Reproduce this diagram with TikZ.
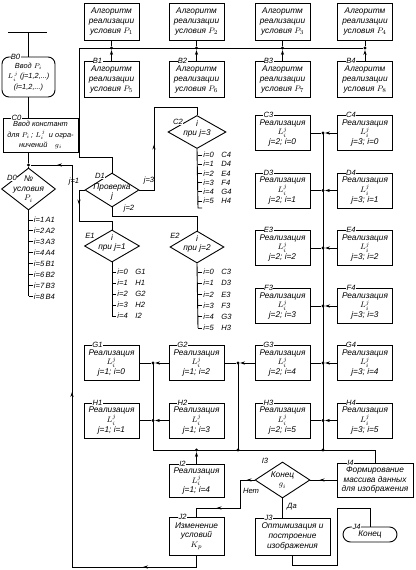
\documentclass[tikz,border=0pt]{standalone}
\usepackage{fontspec}
\setmainfont{Liberation Sans}
\usetikzlibrary{shapes.geometric,arrows.meta,decorations.markings}
\newcommand{\bfs}{\fontsize{8.3}{9.6}\selectfont\itshape}
\newcommand{\lfs}{\fontsize{7.6}{8.6}\selectfont\itshape}
\newcommand{\cfs}{\fontsize{7.4}{10.4}\selectfont\itshape}
\tikzset{
  blk/.style={draw, minimum width=55, minimum height=35, inner sep=0pt, align=center, font=\bfs},
  dia/.style={draw, diamond, inner sep=0pt, minimum width=55, minimum height=33},
  tag/.style={fill=white, inner sep=0.4pt, font=\lfs},
  lab/.style={label={[tag, anchor=center, xshift=14pt]north west:#1}},
  dtx/.style={label={[font=\bfs, align=center, inner sep=0pt]center:{#1}}},
  lst/.style={font=\lfs, inner sep=1pt},
  dot/.style={circle, fill, inner sep=0pt, minimum size=3.2pt},
  marr/.style={postaction={decorate, decoration={markings,
    mark=at position #1 with {\arrow{Stealth[length=5pt,width=3.2pt]}}}}}
}
\begin{document}
\begin{tikzpicture}[x=1pt, y=-1pt, line width=0.9pt, >={Stealth[length=5pt,width=3.2pt]}]
  \useasboundingbox[fill=white] (0,0) rectangle (415,570);
  % Algorithms P1..P8
  \foreach \n/\m/\x in {1/5/111.5, 2/6/196.5, 3/7/282.5, 4/8/365} {
    \node[blk, minimum height=37] (A\n) at (\x,21.5) {Алгоритм\\реализации\\условия $P_{\n}$};
    \node[blk, minimum height=36, lab=B\n] (B\n) at (\x,79.5) {Алгоритм\\реализации\\условия $P_{\m}$};
    \node[dot] (u\n) at (\x,48) {};
    \draw (A\n) -- (u\n);
    \draw[->] (B\n) -- (u\n);
  }
  % Input and constants
  \coordinate (s1) at (8,32);
  \coordinate (s2) at (47,32);
  \draw (s1) -- (s2);
  \node[blk, rounded corners=7pt, minimum width=53, minimum height=40, font=\cfs, lab=B0] (B0) at (28.5,77)
    {Ввод $P_i$\\$L^{\,j}_{i}$\;(j=1,2,...)\\(i=1,2,...)};
  \draw (B0.north |- s1) -- (B0.north);
  \node[blk, minimum width=75, minimum height=34, font=\cfs, lab=C0] (C0) at (40.5,135)
    {Ввод констант\\для $P_i$\,; $L^{\,j}_{i}$\, и огра-\\ничений\quad $g_i$};
  \draw (B0.south) -- (B0.south |- C0.north);
  % D0
  \node[dot] (dj) at (28.5,165) {};
  \node[dia, minimum width=54, minimum height=42, dtx={№\\условия\\$P_i$}] (D0) at (28.5,189) {};
  \node[tag] (D0t) at (12,178) {D0};
  \draw (C0.south -| dj) -- (dj) -- (D0.north);
  \draw (D0.south) -- (28.5,296);
  \foreach \k/\t [count=\n from 0] in {1/A1, 2/A2, 3/A3, 4/A4, 5/B1, 6/B2, 7/B3, 8/B4} {
    \draw (28.5,{220+10.9*\n}) -- ++(4,0) node[right, lst] (d0\n) {i=\k\,\t};
  }
  % D1
  \node[dia, minimum width=54, minimum height=34, label={[font=\bfs, align=center, inner sep=0pt, yshift=-2pt]center:{Проверка\\j}}] (D1) at (112,190) {};
  \node[tag] (D1t) at (100,176) {D1};
  \coordinate (bl) at (79,48);
  \coordinate (bd) at (79,157);
  \draw (u4) -- (bl) -- (bd) -- (bd -| D1) -- (D1.north);
  \node[lst] (lj1) at (74,182) {j=1};
  \node[lst] (lj3) at (149,181) {j=3};
  \node[lst] (lj2) at (129,209) {j=2};
  % C2
  \node[dia, minimum width=58, minimum height=33, label={[font=\bfs, align=center, inner sep=0pt, yshift=3pt]center:{i\\при j=3}}] (C2) at (197,132) {};
  \node[tag] (C2t) at (178,122) {C2};
  \coordinate (j3a) at (154,190);
  \coordinate (j3b) at (154,107);
  \draw[marr=60pt] (D1.east) -- (j3a) -- (j3b) -- (j3b -| C2) -- (C2.north);
  \draw (C2.south) -- (198,208) -- ++(4,0);
  \foreach \k/\t [count=\n from 0] in {0/C4, 1/D4, 2/E4, 3/F4, 4/G4, 5/H4} {
    \draw (198,{155+9.2*\n}) -- ++(4,0) node[right, lst] (c2\n) {i=\k\quad\t};
  }
  % E1
  \node[dia, minimum width=55, minimum height=32, label={[font=\bfs, align=center, inner sep=0pt, yshift=3pt]center:{i\\при j=1}}] (E1) at (112,246) {};
  \node[tag] (E1t) at (90,236) {E1};
  \coordinate (j1a) at (79,190);
  \coordinate (j1b) at (79,221);
  \draw[marr=20pt] (D1.west) -- (j1a) -- (j1b) -- (j1b -| E1) -- (E1.north);
  \draw (E1.south) -- (112,316);
  \foreach \k/\t [count=\n from 0] in {0/G1, 1/H1, 2/G2, 3/H2, 4/I2} {
    \draw (112,{272+11*\n}) -- ++(4,0) node[right, lst] (e1\n) {i=\k\quad\t};
  }
  % E2
  \node[dia, minimum width=54, minimum height=32, label={[font=\bfs, align=center, inner sep=0pt, yshift=3pt]center:{i\\при j=2}}] (E2) at (197,247) {};
  \node[tag] (E2t) at (175,236) {E2};
  \coordinate (j2a) at (112,216);
  \draw (D1.south) -- (j2a) -- (j2a -| E2) -- (E2.north);
  \draw (E2.south) -- (198,328);
  \foreach \k/\t [count=\n from 0] in {0/C3, 1/D3, 2/E3, 3/F3, 4/G3, 5/H3} {
    \draw (198,{272+11.2*\n}) -- ++(4,0) node[right, lst] (e2\n) {i=\k\quad\t};
  }
  % Realisations j=2, j=3
  \foreach \r/\y/\i in {C/133/0, D/190.5/1, E/248/2, F/306/3, G/363/4, H/420.5/5} {
    \node[blk, lab=\r3] (\r3) at (282.5,\y) {Реализация\\$L_i^j$\\j=2; i=\i};
    \node[blk, lab=\r4] (\r4) at (365,\y) {Реализация\\$L_i^j$\\j=3; i=\i};
    \node[dot] (t\r) at (323,\y) {};
    \draw (\r3) -- (t\r);
    \draw[->] (\r4) -- (t\r);
  }
  % Realisations j=1
  \foreach \r/\y/\a/\b in {G/363/0/2, H/420.5/1/3} {
    \node[blk, lab=\r1] (\r1) at (111.5,\y) {Реализация\\$L_i^j$\\j=1; i=\a};
    \node[blk, lab=\r2] (\r2) at (196.5,\y) {Реализация\\$L_i^j$\\j=1; i=\b};
    \node[dot] (l\r) at (153,\y) {};
    \draw (\r1) -- (l\r);
    \draw[->] (\r2) -- (l\r);
  }
  \node[dot] (mG) at (238,363) {};
  \draw (G2) -- (mG);
  \draw[->] (G3) -- (mG);
  % collecting line
  \coordinate (b0) at (153,450);
  \node[dot] (b1) at (196.5,450) {};
  \node[dot] (b2) at (238,450) {};
  \node[dot] (b3) at (323,450) {};
  \draw (lG.center) -- (b0) -- (b3.center);
  \draw (tC.center) -- (b3.center);
  \draw (mG.center) -- (b2.center);
  \node[blk, minimum height=33, lab=I2] (I2) at (196.5,481) {Реализация\\$L_i^j$\\j=1; i=4};
  \draw[->] (I2) -- (b1);
  % end of g_i
  \node[dia, minimum width=55, minimum height=36, dtx={Конец\\$g_i$}] (I3) at (282.5,480) {};
  \node[tag] (I3t) at (265,461) {I3};
  \node[blk, minimum width=76, minimum height=34, lab=I4] (I4) at (375,480) {Формирование\\массива данных\\для изображения};
  \draw (b3.center) -- (b3 -| I4) -- (I4.north);
  \draw[marr=17pt] (I4) -- (I3);
  % no
  \node[blk, minimum height=38, lab=J2] (J2) at (196.5,536) {Изменение\\условий\\$K_p$};
  \coordinate (n1) at (240,480);
  \coordinate (n2) at (240,508);
  \draw[marr=8pt, marr=66pt] (I3.west) -- (n1) -- (n2) -- (n2 -| J2) -- (J2.north);
  \node[lst] (lnet) at (251,491) {Нет};
  % yes
  \node[blk, minimum width=75, minimum height=37, lab=J3] (J3) at (292.5,536.5) {Оптимизация и\\построение\\изображения};
  \draw (I3.south) -- (I3.south |- J3.north);
  \node[lst] (lda) at (292,507) {Да};
  \node[blk, rounded corners=7.5pt, minimum width=54, minimum height=15, lab=J4] (J4) at (370,534.5) {Конец};
  \coordinate (y1) at (292.5,565);
  \coordinate (y2) at (337,565);
  \coordinate (y3) at (337,508);
  \draw (J3.south) -- (y1) -- (y2) -- (y3) -- (y3 -| J4) -- (J4.north);
  % back to D0
  \coordinate (r1) at (196.5,567);
  \coordinate (r2) at (72,567);
  \coordinate (r3) at (72,165);
  \draw[marr=65pt, marr=311pt, marr=553pt] (J2.south) -- (r1) -- (r2) -- (r3) -- (dj);
\end{tikzpicture}
\end{document}
